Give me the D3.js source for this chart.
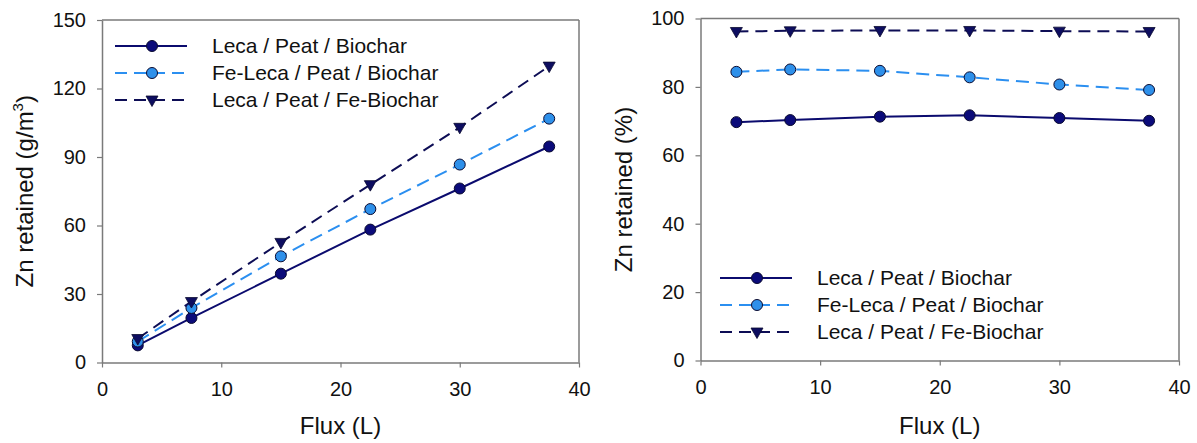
<!DOCTYPE html>
<html>
<head>
<meta charset="utf-8">
<script src="https://cdn.jsdelivr.net/npm/d3@7"></script>
<style>
  body { margin: 0; background: #fff; }
  svg { font-family: Arial, "Liberation Sans", sans-serif; }
</style>
</head>
<body>
<svg id="chart" width="1197" height="443"></svg>
<script>
// data
var flux = [3, 7.5, 15, 22.5, 30, 37.5];
var massLPB   = [7.5, 19.5, 38.9, 58.2, 76.2, 94.6];
var massFeLPB = [9.2, 23.9, 46.5, 67.2, 86.7, 106.8];
var massLPFeB = [10.5, 26.7, 52.6, 77.9, 103, 129.8];
var pctLPB   = [69.7, 70.3, 71.3, 71.7, 70.9, 70.1];
var pctFeLPB = [84.4, 85.1, 84.7, 82.8, 80.7, 79.1];
var pctLPFeB = [96.2, 96.4, 96.5, 96.5, 96.3, 96.2];
var seriesNames = ["Leca / Peat / Biochar", "Fe-Leca / Peat / Biochar", "Leca / Peat / Fe-Biochar"];
var xTicks = [0, 10, 20, 30, 40];
var massTicks = [0, 30, 60, 90, 120, 150];
var pctTicks = [0, 20, 40, 60, 80, 100];

var styles = [
  {line: "#0b0b6e", fill: "#0b0b7a", dash: null, sym: "circle"},
  {line: "#2b8ff0", fill: "#2e90ea", dash: "13,7", sym: "circle"},
  {line: "#0d0d55", fill: "#0d0d60", dash: "12,7", sym: "tri"}
];

var svg = d3.select("#chart");
var axisCol = "#7a7a7a";

function drawPanel(opt) {
  var x = d3.scaleLinear().domain([0, 40]).range([opt.left, opt.right]);
  var y = d3.scaleLinear().domain([0, opt.ymax]).range([opt.bottom, opt.top]);
  var g = svg.append("g");

  // frame top/right
  g.append("line").attr("x1", opt.left).attr("x2", opt.right).attr("y1", opt.top).attr("y2", opt.top)
    .attr("stroke", axisCol).attr("stroke-width", 1.5);
  g.append("line").attr("x1", opt.right).attr("x2", opt.right).attr("y1", opt.top).attr("y2", opt.bottom)
    .attr("stroke", axisCol).attr("stroke-width", 1.5);

  var xa = g.append("g").attr("transform", "translate(0," + opt.bottom + ")")
    .call(d3.axisBottom(x).tickValues(xTicks).tickSize(5).tickPadding(14).tickSizeOuter(0));
  var ya = g.append("g").attr("transform", "translate(" + opt.left + ",0)")
    .call(d3.axisLeft(y).tickValues(opt.yTicks).tickSize(5).tickPadding(11).tickSizeOuter(0));
  [xa, ya].forEach(function(a) {
    a.select(".domain").attr("stroke", axisCol).attr("stroke-width", 1.5);
    a.selectAll(".tick line").attr("stroke", axisCol).attr("stroke-width", 1.2);
    a.selectAll(".tick text").attr("font-size", 20).attr("fill", "#111")
      .attr("font-family", "Arial, 'Liberation Sans', sans-serif");
  });

  // titles
  g.append("text").attr("x", (opt.left + opt.right) / 2).attr("y", 434)
    .attr("text-anchor", "middle").attr("font-size", 24).attr("fill", "#111").text("Flux (L)");
  var yt = g.append("text").attr("transform", "translate(" + opt.ytx + "," + ((opt.top + opt.bottom) / 2) + ") rotate(-90)")
    .attr("text-anchor", "middle").attr("font-size", 24).attr("fill", "#111");
  yt.append("tspan").text(opt.ytitle);
  if (opt.sup) {
    yt.append("tspan").attr("font-size", 15).attr("dy", -10).text(opt.sup);
    yt.append("tspan").attr("dy", 10).text(")");
  }

  var line = d3.line().x(function(d) { return x(d[0]); }).y(function(d) { return y(d[1]); });
  opt.data.forEach(function(vals, i) {
    var st = styles[i];
    var pts = flux.map(function(f, j) { return [f, vals[j]]; });
    g.append("path").datum(pts).attr("d", line).attr("fill", "none")
      .attr("stroke", st.line).attr("stroke-width", 2).attr("stroke-dasharray", st.dash);
    pts.forEach(function(p) { marker(g, st, x(p[0]), y(p[1])); });
  });

  // legend
  var lg = opt.legend;
  seriesNames.forEach(function(name, i) {
    var st = styles[i];
    var cy = lg.y + i * lg.dy;
    g.append("line").attr("x1", lg.x).attr("x2", lg.x + 72).attr("y1", cy).attr("y2", cy)
      .attr("stroke", st.line).attr("stroke-width", 2).attr("stroke-dasharray", st.dash ? "12,7" : null);
    marker(g, st, lg.x + 37, cy);
    g.append("text").attr("x", lg.x + 97).attr("y", cy + 7).attr("font-size", 21).attr("fill", "#111").text(name);
  });
}

function marker(g, st, cx, cy) {
  if (st.sym === "circle") {
    g.append("circle").attr("cx", cx).attr("cy", cy).attr("r", 5.5)
      .attr("fill", st.fill).attr("stroke", "#0a0a30").attr("stroke-width", 1);
  } else {
    g.append("path").attr("transform", "translate(" + cx + "," + (cy + 1) + ")")
      .attr("d", "M-6,-5L6,-5L0,5.5Z").attr("fill", st.fill).attr("stroke", "#0a0a30").attr("stroke-width", 0.8);
  }
}

drawPanel({left: 102, right: 579, top: 20, bottom: 362.5, ymax: 150, yTicks: massTicks,
  ytitle: "Zn retained (g/m", sup: "3", ytx: 33,
  data: [massLPB, massFeLPB, massLPFeB], legend: {x: 115, y: 46, dy: 27}});
drawPanel({left: 700.5, right: 1179, top: 18.5, bottom: 360.5, ymax: 100, yTicks: pctTicks,
  ytitle: "Zn retained (%)", sup: null, ytx: 632,
  data: [pctLPB, pctFeLPB, pctLPFeB], legend: {x: 720, y: 278, dy: 27}});
</script>
</body>
</html>
